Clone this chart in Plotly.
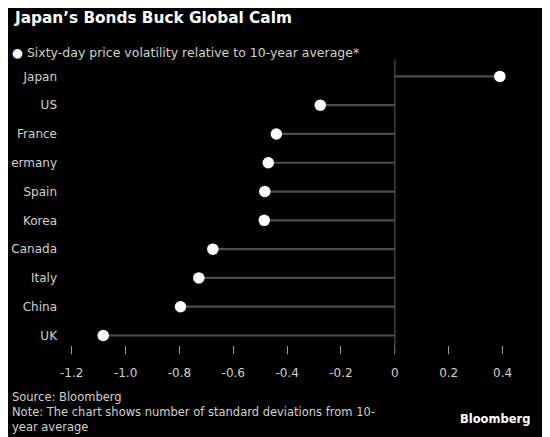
import plotly.graph_objects as go

countries = ["Japan", "US", "France", "ermany", "Spain", "Korea", "Canada", "Italy", "China", "UK"]
volatility = [0.39, -0.277, -0.44, -0.47, -0.483, -0.485, -0.676, -0.728, -0.796, -1.083]
tick_vals = [-1.2, -1.0, -0.8, -0.6, -0.4, -0.2, 0, 0.2, 0.4]
tick_text = ["-1.2", "-1.0", "-0.8", "-0.6", "-0.4", "-0.2", "0", "0.2", "0.4"]

FONT = "DejaVu Sans"
TXT = "#d0d0d0"
OFF = 8  # page body margin shifts the figure, so pull everything back

W, H = 550, 437
L, R, T, B = 65.3 - OFF, 33.5 + OFF, 62 - OFF, 91.5 + OFF

# stems from zero to each value
stem_x, stem_y = [], []
for c, v in zip(countries, volatility):
    stem_x += [0, v, None]
    stem_y += [c, c, None]

fig = go.Figure()
fig.add_trace(go.Scatter(x=stem_x, y=stem_y, mode="lines",
                         line=dict(color="#4d4d4d", width=2.2),
                         hoverinfo="skip", showlegend=False))
fig.add_trace(go.Scatter(x=volatility, y=countries, mode="markers",
                         marker=dict(color="white", size=11.5),
                         name="Sixty-day price volatility relative to 10-year average*",
                         showlegend=False))

fig.add_shape(type="line", xref="x", yref="paper", x0=0, x1=0, y0=-0.027, y1=1.01,
              line=dict(color="#4d4d4d", width=1.2))


def px(x, y):
    # pixel position in the reference -> paper fraction
    return (x - OFF - L) / (W - L - R), (H - (y - OFF) - B) / (H - T - B)


tx, ty = px(12, 18)
lx, ly = px(10, 52)
sx, sy = px(10, 389)
bx, by = px(533, 420)

fig.update_layout(
    width=W, height=H,
    paper_bgcolor="black", plot_bgcolor="black",
    margin=dict(l=L, r=R, t=T, b=B),
    font=dict(family=FONT, color=TXT, size=12),
    xaxis=dict(range=[-1.225, 0.45], tickvals=tick_vals, ticktext=tick_text,
               showgrid=False, zeroline=False, showline=False, automargin=False,
               ticks="outside", ticklen=8, tickwidth=1, tickcolor="#999999",
               ticklabelstandoff=9,
               tickfont=dict(family=FONT, size=12, color=TXT)),
    yaxis=dict(categoryorder="array", categoryarray=countries[::-1],
               range=[-0.33, 9.5], showgrid=False, zeroline=False, showline=False,
               automargin=False, ticks="", ticklabelstandoff=7,
               tickfont=dict(family=FONT, size=12, color=TXT)),
    annotations=[
        dict(text="<b>Japan’s Bonds Buck Global Calm</b>", x=tx, y=ty,
             xref="paper", yref="paper", showarrow=False, xanchor="left", yanchor="middle",
             font=dict(family=FONT, size=15.3, color="white")),
        dict(text="<span style='color:white'>●</span> Sixty-day price volatility relative to 10-year average*",
             x=lx, y=ly, xref="paper", yref="paper", showarrow=False,
             xanchor="left", yanchor="middle",
             font=dict(family=FONT, size=12.5, color=TXT)),
        dict(text="Source: Bloomberg<br>Note: The chart shows number of standard deviations from 10-<br>year average",
             x=sx, y=sy, xref="paper", yref="paper", showarrow=False,
             xanchor="left", yanchor="top", align="left",
             font=dict(family=FONT, size=11.5, color=TXT)),
        dict(text="<b>Bloomberg</b>", x=bx, y=by, xref="paper", yref="paper",
             showarrow=False, xanchor="right", yanchor="middle",
             font=dict(family=FONT, size=11.5, color="white")),
    ],
)

fig.write_html("out.html")
